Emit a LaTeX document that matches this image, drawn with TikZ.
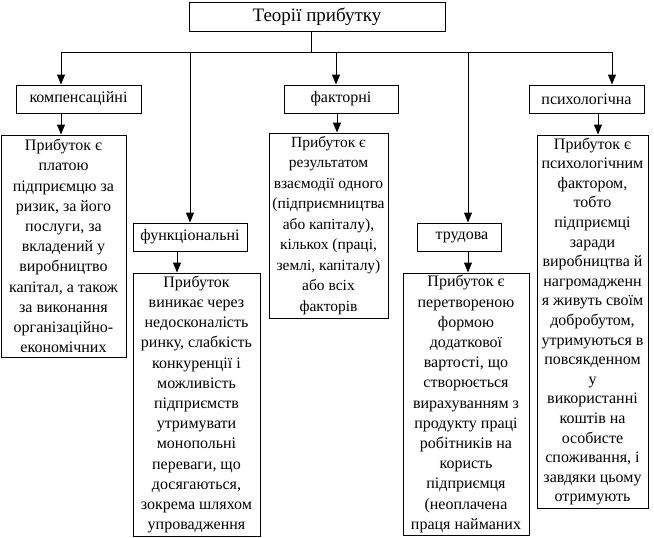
\documentclass[tikz,border=0pt]{standalone}
\usepackage{fontspec}
\setmainfont{Liberation Serif}
\usetikzlibrary{arrows.meta}
\begin{document}
\begin{tikzpicture}[x=1pt,y=1pt,
  box/.style={draw,line width=1pt,inner sep=0pt,align=center,
    font=\fontsize{16}{20.2}\selectfont},
  titlebox/.style={box,font=\fontsize{19}{22}\selectfont},
  link/.style={line width=1pt},
  arr/.style={line width=1pt,-{Triangle[width=8pt,length=10pt]}}]
\useasboundingbox (0,0) rectangle (654,-538);
% title
\node[titlebox,minimum width=256pt,minimum height=29pt] (title) at (317,-16.5) {Теорії прибутку};
% category boxes
\node[box,minimum width=125pt,minimum height=28pt] (komp) at (78.5,-99) {компенсаційні};
\node[box,minimum width=114pt,minimum height=28pt] (func) at (190,-237) {функціональні};
\node[box,minimum width=114pt,minimum height=28pt] (fact) at (341,-99) {факторні};
\node[box,minimum width=84pt,minimum height=28pt] (trud) at (459,-237) {\hspace*{6pt}трудова};
\node[box,minimum width=115pt,minimum height=28pt] (psych) at (586.5,-99) {психологічна};
% description boxes
\node[box,minimum width=125pt,minimum height=222pt] (kompD) at (63.5,-246)
  {Прибуток є\\платою\\підприємцю за\\ризик, за його\\послуги, за\\вкладений у\\виробництво\\капітал, а також\\за виконання\\організаційно-\\економічних};
\node[box,minimum width=127pt,minimum height=263pt] (funcD) at (196.5,-404.5)
  {Прибуток\\виникає через\\недосконалість\\ринку, слабкість\\конкуренції і\\можливість\\підприємств\\утримувати\\монопольні\\переваги, що\\досягаються,\\зокрема шляхом\\упровадження};
\node[box,minimum width=119pt,minimum height=185pt,font=\fontsize{15.5}{20.5}\selectfont] (factD) at (328.5,-225.5)
  {Прибуток є\\результатом\\взаємодії одного\\(підприємництва\\або капіталу),\\кількох (праці,\\землі, капіталу)\\або всіх\\факторів};
\node[box,minimum width=126pt,minimum height=262pt] (trudD) at (466,-404)
  {Прибуток є\\перетвореною\\формою\\додаткової\\вартості, що\\створюється\\вирахуванням з\\продукту праці\\робітників на\\користь\\підприємця\\(неоплачена\\праця найманих};
\node[box,minimum width=111pt,minimum height=373pt,font=\fontsize{16}{19.6}\selectfont] (psychD) at (592.5,-321.5)
  {Прибуток є\\психологічним\\фактором,\\тобто\\підприємці\\заради\\виробництва й\\нагромадженн\\я живуть своїм\\добробутом,\\утримуються в\\повсякденном\\у\\використанні\\коштів на\\особисте\\споживання, і\\завдяки цьому\\отримують};
% junction coordinates
\coordinate (tj) at (311,-52);
\coordinate (jk) at (61,-52);
\coordinate (jf) at (190,-52);
\coordinate (ja) at (336,-52);
\coordinate (jt) at (468,-52);
\coordinate (jp) at (612,-52);
\coordinate (xf) at (177,-52);
\coordinate (xa) at (337,-52);
\coordinate (xp) at (598,-52);
% trunk
\draw[link] (title.south -| tj) -- (tj);
\draw[link] (jk) -- (jp);
% branches
\draw[arr] (jk) -- (komp.north -| jk);
\draw[arr] (jf) -- (func.north -| jf);
\draw[arr] (ja) -- (fact.north -| ja);
\draw[arr] (jt) -- (trud.north -| jt);
\draw[arr] (jp) -- (psych.north -| jp);
% to descriptions
\draw[arr] (komp.south -| jk) -- (kompD.north -| jk);
\draw[arr] (func.south -| xf) -- (funcD.north -| xf);
\draw[arr] (fact.south -| xa) -- (factD.north -| xa);
\draw[arr] (trud.south -| jt) -- (trudD.north -| jt);
\draw[arr] (psych.south -| xp) -- (psychD.north -| xp);
\end{tikzpicture}
\end{document}
